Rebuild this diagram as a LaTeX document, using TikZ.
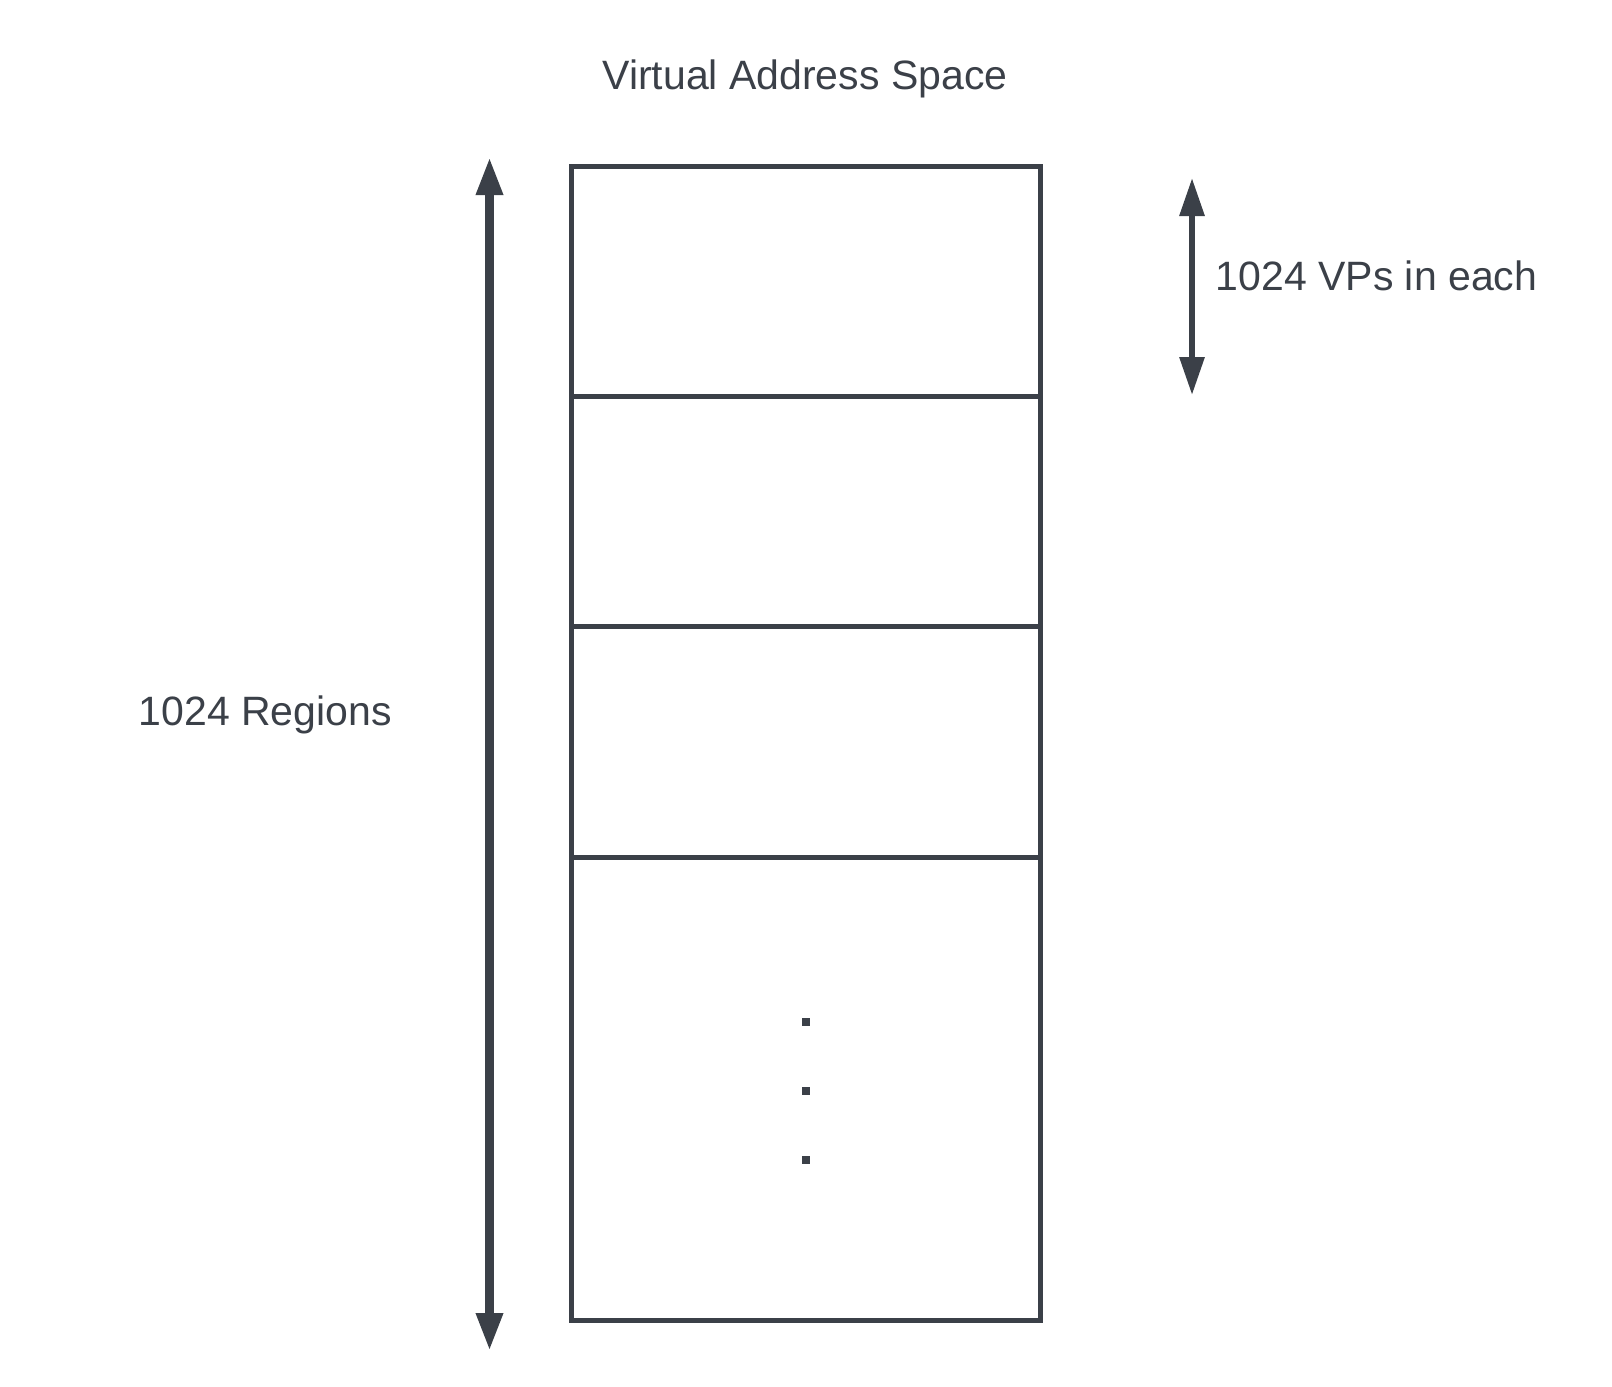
\documentclass[tikz,border=0pt]{standalone}
\usepackage{fontspec}
\setmainfont{Liberation Sans}
\usepackage{xcolor}
\usepackage{tikz}
\usetikzlibrary{arrows.meta}
\definecolor{ink}{HTML}{3B4048}
\tikzset{
  box/.style={draw=ink, line width=1.25pt, line join=miter},
  bigarr/.style={draw=ink, line width=2.25pt, {Triangle[length=9.5pt,width=6.25pt]}-{Triangle[length=9.5pt,width=6.25pt]}},
  smallarr/.style={draw=ink, line width=1.5pt, {Triangle[length=9.5pt,width=6pt]}-{Triangle[length=9.5pt,width=6pt]}},
  lab/.style={text=ink, inner sep=0pt, font=\fontsize{10.25pt}{12pt}\selectfont},
  dotsq/.style={fill=ink},
}
\begin{document}
\begin{tikzpicture}[x=0.25pt, y=-0.25pt]
  \useasboundingbox (0,0) rectangle (1612,1386);
  % address space column
  \coordinate (TL) at (571,166);
  \coordinate (BR) at (1040,1320);
  \draw[box] (TL) rectangle (BR);
  \foreach \y in {396,626,857}
    \draw[box] (571,\y) -- (1040,\y);
  \foreach \y in {1021.5,1090.5,1160}
    \fill[dotsq] (802,\y-4) rectangle (810,\y+4);
  % arrows
  \coordinate (Ltop) at (489.5,157);
  \coordinate (Lbot) at (489.5,1351);
  \draw[bigarr] (Ltop) -- (Lbot);
  \coordinate (Rtop) at (1192,178);
  \coordinate (Rbot) at (1192,395);
  \draw[smallarr] (Rtop) -- (Rbot);
  % labels
  \node[lab, anchor=base] (title) at (805,89) {Virtual Address Space};
  \node[lab, anchor=base west] (regions) at (138,725.7) {1024 Regions};
  \node[lab, anchor=base west] (vps) at (1215,290.7) {1024 VPs in each};
\end{tikzpicture}
\end{document}
